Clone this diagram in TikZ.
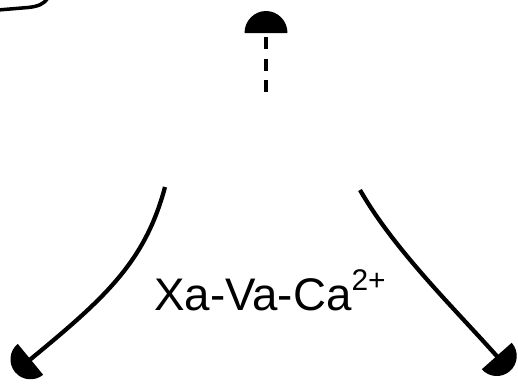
\documentclass[tikz,border=0pt]{standalone}
\usepackage{fontspec}
\setmainfont{Liberation Sans}
\usetikzlibrary{arrows.meta, positioning}

% ponta em forma de meia cupula
\pgfdeclarearrow{
  name = Cupula,
  defaults = {length = +0.4cm, width = +0.8cm},
  setup code = {
    \pgfarrowssettipend{\pgfarrowlength}
    \pgfarrowssetlineend{1pt}
    \pgfarrowssetbackend{0pt}
    \pgfarrowssavethe\pgfarrowlength
    \pgfarrowssavethe\pgfarrowwidth
  },
  drawing code = {
    \pgfpathmoveto{\pgfqpoint{0pt}{.5\pgfarrowwidth}}
    \pgfpathcurveto{\pgfqpoint{.5523\pgfarrowlength}{.5\pgfarrowwidth}}
                   {\pgfqpoint{\pgfarrowlength}{.27615\pgfarrowwidth}}
                   {\pgfqpoint{\pgfarrowlength}{0pt}}
    \pgfpathcurveto{\pgfqpoint{\pgfarrowlength}{-.27615\pgfarrowwidth}}
                   {\pgfqpoint{.5523\pgfarrowlength}{-.5\pgfarrowwidth}}
                   {\pgfqpoint{0pt}{-.5\pgfarrowwidth}}
    \pgfpathclose
    \pgfusepathqfill
  },
  parameters = {\the\pgfarrowlength,\the\pgfarrowwidth},
}

\begin{document}
\begin{tikzpicture}[
    x=0.02cm,
    y=-0.02cm,
    seta/.style={
        -{Cupula[length=0.4cm, width=0.8cm]},
        line width=0.085cm
    },
    setaTracejada/.style={
        -{Cupula[length=0.44cm, width=0.86cm]},
        line width=0.09cm,
        dash pattern=on 0.24cm off 0.19cm
    },
    rotulo/.style={
        font=\fontsize{26}{31}\selectfont,
        inner sep=0pt
    }
]

\useasboundingbox (0,0) rectangle (518,383);

% =================================================
% CANTO DA CAIXA (fora do quadro)
% =================================================

\draw[line width=0.07cm, line cap=round]
    (-2,10) -- (28,7.5) .. controls (38,6.5) and (44,4) .. (48,-2);

% =================================================
% SETA TRACEJADA
% =================================================

\coordinate (topoBase) at (266,92);
\coordinate (topoPonta) at (266,11);

\draw[setaTracejada] (topoBase) -- (topoPonta);

% =================================================
% COMPLEXO
% =================================================

\node[
    rotulo,
    anchor=base west
] (complexo) at (154,310)
{Xa-Va-Ca\raisebox{11pt}{\fontsize{17}{18}\selectfont 2+}};

% =================================================
% SETAS CURVAS
% =================================================

\coordinate (esqInicio) at (165,187);
\coordinate (esqFim) at (15,372);

\coordinate (dirInicio) at (360,190);
\coordinate (dirFim) at (510,371);

\draw[seta] (esqInicio)
    .. controls (145,262) and (105,298) .. (esqFim);

\draw[seta] (dirInicio)
    .. controls (395,251) and (456,310) .. (dirFim);

\end{tikzpicture}
\end{document}
